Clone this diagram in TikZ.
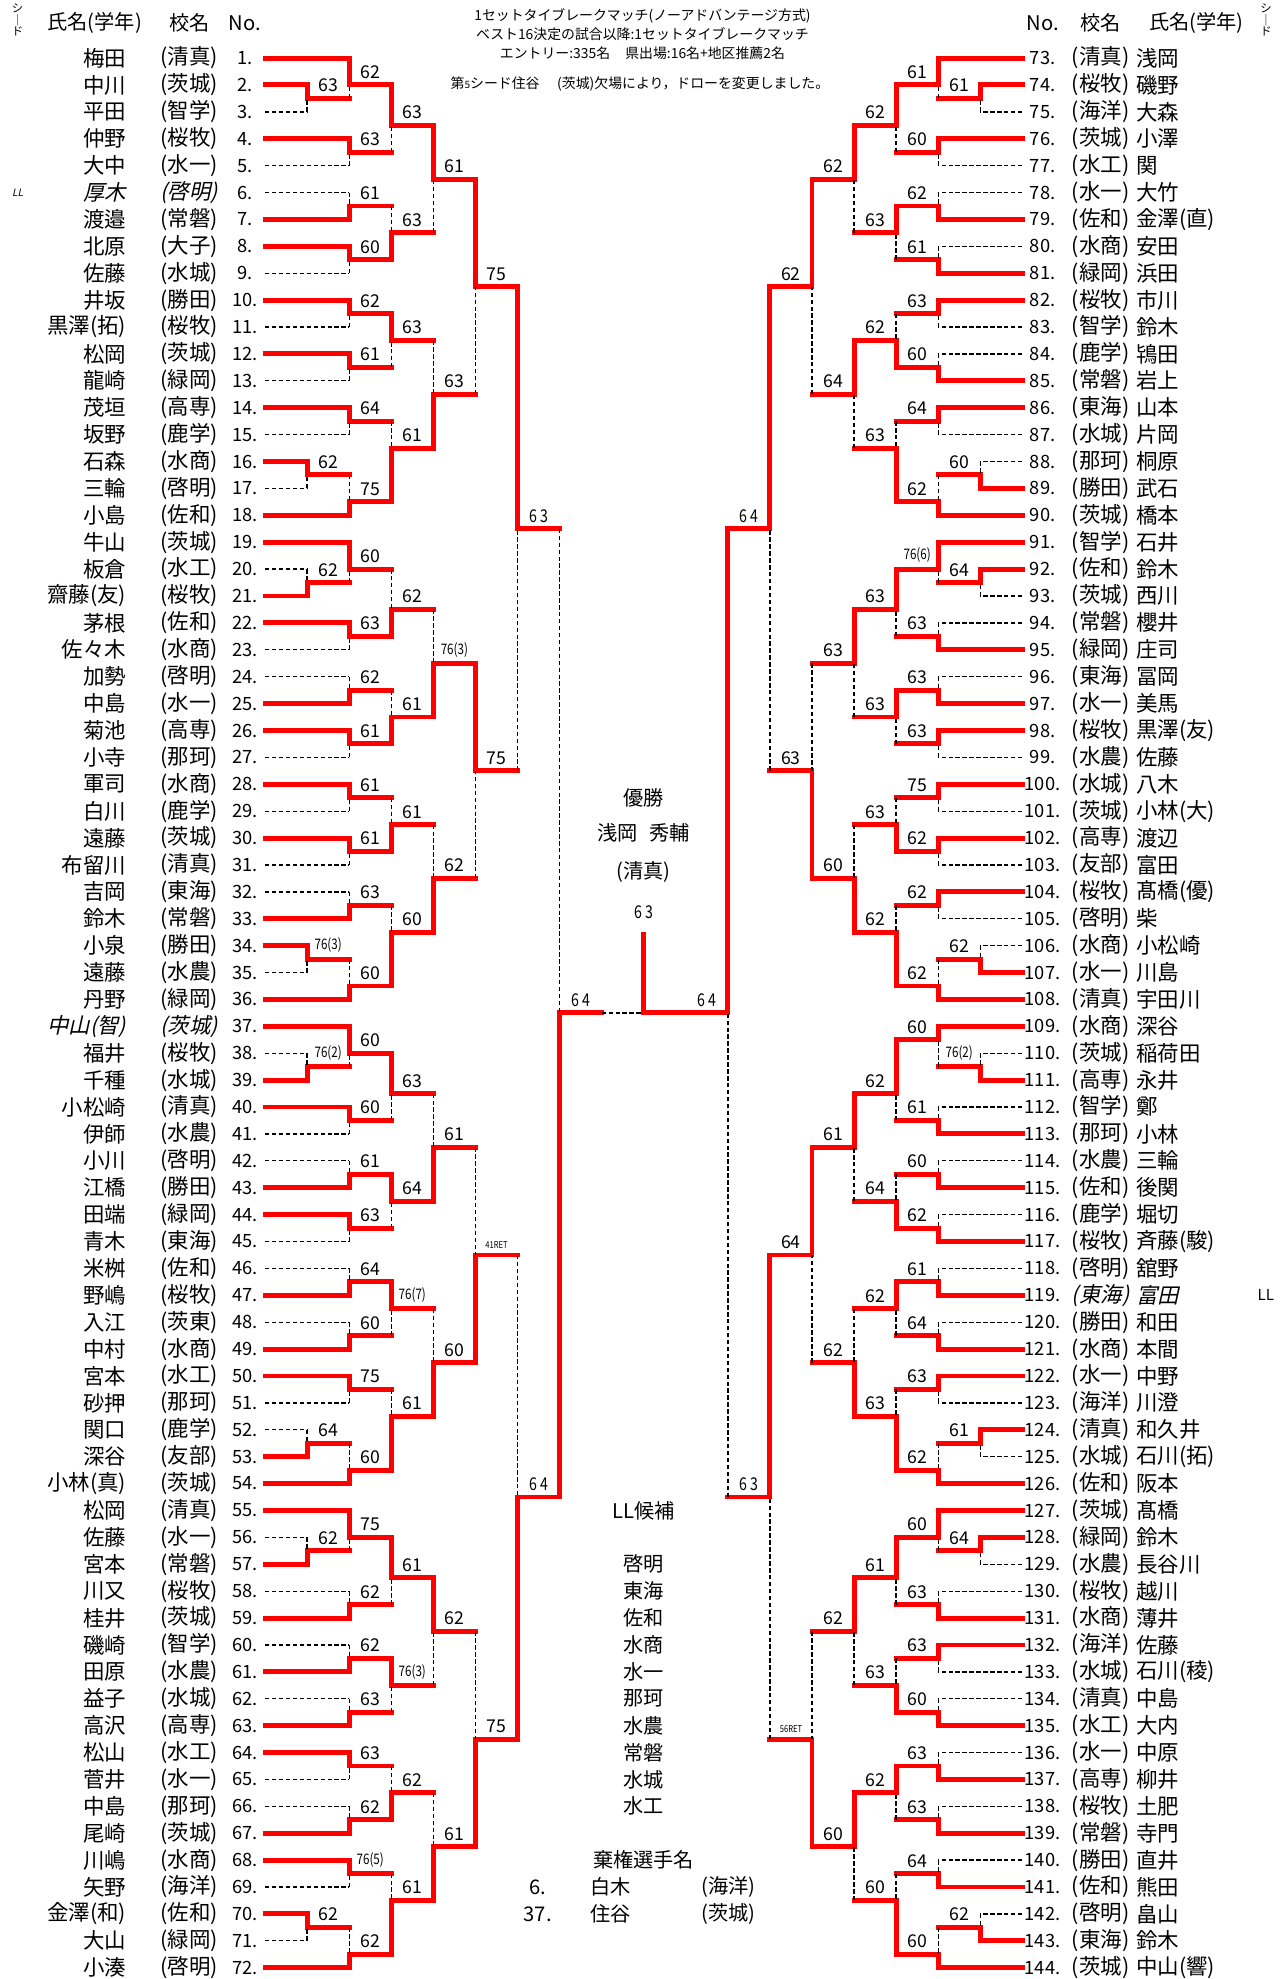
\documentclass[tikz,border=0pt]{standalone}
\usepackage{fontspec}
\setmainfont{Noto Sans CJK JP}
\newfontfamily\jpit{Noto Sans CJK JP}[FakeSlant=0.22]
\newfontfamily\jpnar{Noto Sans CJK JP}[FakeStretch=0.8]
\newcommand{\fsz}[1]{\fontsize{#1}{#1}\selectfont}
\newcommand{\smlab}{\jpnar\fsz{11.5}}
\newcommand{\tnlab}{\jpnar\fsz{7.5}}
\newcommand{\bout}[6]{%
  \draw[win] (#1,#3) -- (#1,#5) -- (#2,#5);
  \draw[lose] (#1,#4) -- (#1,#5);
  \node[sc] at ({(#1+#2)/2},#5) {#6};}

\begin{document}
\begin{tikzpicture}[x=1pt,y=-21.31pt,
  win/.style={draw=red,line width=3.9pt,line cap=rect},
  lose/.style={draw=black,line width=1.05pt,dash pattern=on 3.5pt off 2pt},
  sc/.style={anchor=south,inner sep=0pt,yshift=4.8pt,font=\fsz{14}},
  nmL/.style={anchor=east,inner sep=0pt,font=\fsz{17}},
  nmR/.style={anchor=west,inner sep=0pt,font=\fsz{17}},
  sch/.style={inner sep=0pt,font=\fsz{17}},
  num/.style={inner sep=0pt,font=\fsz{14.5}},
  hd/.style={inner sep=0pt,font=\fsz{16}},
  note/.style={inner sep=0pt,font=\fsz{11}},
  ctr/.style={inner sep=0pt,font=\fsz{16}},
  seed/.style={inner sep=0pt,align=center,font=\fsz{9}}]
\useasboundingbox (0,-1.1586) rectangle (1016,72.42);

\node[note] (r1) at (509,-0.55) {1セットタイブレークマッチ(ノーアドバンテージ方式)};
\node[note] (r2) at (509,0.11) {ベスト16決定の試合以降:1セットタイブレークマッチ};
\node[note] (r3) at (509,0.81) {エントリー:335名\hspace{12pt}県出場:16名+地区推薦2名};
\node[note] (r4) at (507,1.98) {第{\fsz{8}5}シード住谷\hspace{14pt}(茨城)欠場により，ドローを変更しました。};

\node[seed] (sdL) at (14,-0.41) {シ\\｜\\ド};
\node[seed] (sdR) at (1003,-0.41) {シ\\｜\\ド};
\node[hd] (hnL) at (75,-0.31) {氏名(学年)};
\node[hd] (hsL) at (150,-0.31) {校名};
\node[hd] (hkL) at (194,-0.31) {No.};
\node[hd] (hkR) at (826,-0.31) {No.};
\node[hd] (hsR) at (872,-0.31) {校名};
\node[hd] (hnR) at (948,-0.31) {氏名(学年)};

\foreach \nam/\sch/\rw in {梅田/清真/1, 中川/茨城/2, 平田/智学/3, 仲野/桜牧/4, 大中/水一/5, 渡邉/常磐/7, 北原/大子/8, 佐藤/水城/9, 井坂/勝田/10, 黒澤(拓)/桜牧/11, 松岡/茨城/12, 龍崎/緑岡/13, 茂垣/高専/14, 坂野/鹿学/15, 石森/水商/16, 三輪/啓明/17, 小島/佐和/18, 牛山/茨城/19, 板倉/水工/20, 齋藤(友)/桜牧/21, 茅根/佐和/22, 佐々木/水商/23, 加勢/啓明/24, 中島/水一/25, 菊池/高専/26, 小寺/那珂/27, 軍司/水商/28, 白川/鹿学/29, 遠藤/茨城/30, 布留川/清真/31, 吉岡/東海/32, 鈴木/常磐/33, 小泉/勝田/34, 遠藤/水農/35, 丹野/緑岡/36, 福井/桜牧/38, 千種/水城/39, 小松崎/清真/40, 伊師/水農/41, 小川/啓明/42, 江橋/勝田/43, 田端/緑岡/44, 青木/東海/45, 米桝/佐和/46, 野嶋/桜牧/47, 入江/茨東/48, 中村/水商/49, 宮本/水工/50, 砂押/那珂/51, 関口/鹿学/52, 深谷/友部/53, 小林(真)/茨城/54, 松岡/清真/55, 佐藤/水一/56, 宮本/常磐/57, 川又/桜牧/58, 桂井/茨城/59, 磯崎/智学/60, 田原/水農/61, 益子/水城/62, 高沢/高専/63, 松山/水工/64, 菅井/水一/65, 中島/那珂/66, 尾崎/茨城/67, 川嶋/水商/68, 矢野/海洋/69, 金澤(和)/佐和/70, 大山/緑岡/71, 小湊/啓明/72}{
  \node[nmL] (p\rw) at (100,\rw) {\nam};
  \node[sch] (s\rw) at (150,\rw) {(\sch)};
  \node[num] (k\rw) at (194,\rw) {\rw.};
}
\node[nmL,font=\jpit\fsz{17}] (p6) at (100,6) {厚木};
\node[sch,font=\jpit\fsz{17}] (s6) at (150,6) {(啓明)};
\node[num] (k6) at (194,6) {6.};
\node[nmL,font=\jpit\fsz{17}] (p37) at (100,37) {中山(智)};
\node[sch,font=\jpit\fsz{17}] (s37) at (150,37) {(茨城)};
\node[num] (k37) at (194,37) {37.};
\node[inner sep=0pt,font=\jpit\fsz{8}] (llL) at (14,6) {LL};

\foreach \pn/\sch/\nam [evaluate=\pn as \rw using int(\pn-72)] in {73/清真/浅岡, 74/桜牧/磯野, 75/海洋/大森, 76/茨城/小澤, 77/水工/関, 78/水一/大竹, 79/佐和/金澤(直), 80/水商/安田, 81/緑岡/浜田, 82/桜牧/市川, 83/智学/鈴木, 84/鹿学/鴇田, 85/常磐/岩上, 86/東海/山本, 87/水城/片岡, 88/那珂/桐原, 89/勝田/武石, 90/茨城/橋本, 91/智学/石井, 92/佐和/鈴木, 93/茨城/西川, 94/常磐/櫻井, 95/緑岡/庄司, 96/東海/冨岡, 97/水一/美馬, 98/桜牧/黒澤(友), 99/水農/佐藤, 100/水城/八木, 101/茨城/小林(大), 102/高専/渡辺, 103/友部/富田, 104/桜牧/髙橋(優), 105/啓明/柴, 106/水商/小松崎, 107/水一/川島, 108/清真/宇田川, 109/水商/深谷, 110/茨城/稲荷田, 111/高専/永井, 112/智学/鄭, 113/那珂/小林, 114/水農/三輪, 115/佐和/後関, 116/鹿学/堀切, 117/桜牧/斉藤(駿), 118/啓明/舘野, 120/勝田/和田, 121/水商/本間, 122/水一/中野, 123/海洋/川澄, 124/清真/和久井, 125/水城/石川(拓), 126/佐和/阪本, 127/茨城/髙橋, 128/緑岡/鈴木, 129/水農/長谷川, 130/桜牧/越川, 131/水商/薄井, 132/海洋/佐藤, 133/水城/石川(稜), 134/清真/中島, 135/水工/大内, 136/水一/中原, 137/高専/柳井, 138/桜牧/土肥, 139/常磐/寺門, 140/勝田/直井, 141/佐和/熊田, 142/啓明/畠山, 143/東海/鈴木, 144/茨城/中山(響)}{
  \node[num] (k\pn) at (826,\rw) {\pn.};
  \node[sch] (s\pn) at (872,\rw) {(\sch)};
  \node[nmR] (p\pn) at (900,\rw) {\nam};
}
\node[num] (k119) at (826,47) {119.};
\node[sch,font=\jpit\fsz{17}] (s119) at (872,47) {(東海)};
\node[nmR,font=\jpit\fsz{17}] (p119) at (900,47) {富田};
\node[inner sep=0pt,font=\fsz{12}] (llR) at (1003,47) {LL};

\foreach \rw in {1,4,7,8,10,12,14,18,19,22,25,26,28,30,33,36,37,40,43,44,47,49,50,54,55,59,61,63,64,67,68,72}
  \draw[win] (210,\rw) -- (276.67,\rw);
\foreach \rw in {5,6,9,11,13,15,23,24,27,29,31,32,41,42,45,46,48,51,58,60,62,65,66,69}
  \draw[lose] (210,\rw) -- (276.67,\rw);
\foreach \rw in {2,16,21,34,39,53,57,70}
  \draw[win] (210,\rw) -- (243.33,\rw);
\foreach \rw in {3,17,20,35,38,52,56,71}
  \draw[lose] (210,\rw) -- (243.33,\rw);

\foreach \wa/\lo/\ou/\lb in {2/3/2.5/63, 16/17/16.5/62, 21/20/20.5/62, 34/35/34.5/{\smlab 76(3)}, 39/38/38.5/{\smlab 76(2)}, 53/52/52.5/64, 57/56/56.5/62, 70/71/70.5/62}
  \bout{243.33}{276.67}{\wa}{\lo}{\ou}{\lb};
\foreach \wa/\lo/\ou/\lb in {1/2.5/2/62, 4/5/4.5/63, 7/6/6.5/61, 8/9/8.5/60, 10/11/10.5/62, 12/13/12.5/61, 14/15/14.5/64, 18/16.5/17.5/75, 19/20.5/20/60, 22/23/22.5/63, 25/24/24.5/62, 26/27/26.5/61, 28/29/28.5/61, 30/31/30.5/61, 33/32/32.5/63, 36/34.5/35.5/60, 37/38.5/38/60, 40/41/40.5/60, 43/42/42.5/61, 44/45/44.5/63, 47/46/46.5/64, 49/48/48.5/60, 50/51/50.5/75, 54/52.5/53.5/60, 55/56.5/56/75, 59/58/58.5/62, 61/60/60.5/62, 63/62/62.5/63, 64/65/64.5/63, 67/66/66.5/62, 68/69/68.5/{\smlab 76(5)}, 72/70.5/71.5/62}
  \bout{276.67}{310}{\wa}{\lo}{\ou}{\lb};
\foreach \wa/\lo/\ou/\lb in {2/4.5/3.5/63, 8.5/6.5/7.5/63, 10.5/12.5/11.5/63, 17.5/14.5/15.5/61, 22.5/20/21.5/62, 26.5/24.5/25.5/61, 30.5/28.5/29.5/61, 35.5/32.5/33.5/60, 38/40.5/39.5/63, 42.5/44.5/43.5/64, 46.5/48.5/47.5/{\smlab 76(7)}, 53.5/50.5/51.5/61, 56/58.5/57.5/61, 60.5/62.5/61.5/{\smlab 76(3)}, 66.5/64.5/65.5/62, 71.5/68.5/69.5/61}
  \bout{310}{343.33}{\wa}{\lo}{\ou}{\lb};
\foreach \wa/\lo/\ou/\lb in {3.5/7.5/5.5/61, 15.5/11.5/13.5/63, 25.5/21.5/23.5/{\smlab 76(3)}, 33.5/29.5/31.5/62, 43.5/39.5/41.5/61, 51.5/47.5/49.5/60, 57.5/61.5/59.5/62, 69.5/65.5/67.5/61}
  \bout{343.33}{376.67}{\wa}{\lo}{\ou}{\lb};
\foreach \wa/\lo/\ou/\lb in {5.5/13.5/9.5/75, 23.5/31.5/27.5/75, 49.5/41.5/45.5/{\tnlab 41RET}, 67.5/59.5/63.5/75}
  \bout{376.67}{410}{\wa}{\lo}{\ou}{\lb};
\foreach \wa/\lo/\ou/\lb in {9.5/27.5/18.5/{\jpnar 6 3}, 63.5/45.5/54.5/{\jpnar 6 4}}
  \bout{410}{443.33}{\wa}{\lo}{\ou}{\lb};
\draw[win] (443.33,54.5) -- (443.33,36.5) -- (476.67,36.5);
\draw[lose] (443.33,18.5) -- (443.33,36.5);
\draw[lose] (476.67,36.5) -- (510,36.5);
\node[sc,font=\jpnar\fsz{14}] (sfL) at (460,36.5) {6 4};

\begin{scope}[shift={(1020,0)},xscale=-1]
\foreach \rw in {1,4,7,9,10,13,14,18,19,23,25,26,28,30,32,36,37,41,43,45,47,49,50,54,55,59,60,63,65,67,69,72}
  \draw[win] (210,\rw) -- (276.67,\rw);
\foreach \rw in {5,6,8,11,12,15,22,24,27,29,31,33,40,42,44,46,48,51,58,61,62,64,66,68}
  \draw[lose] (210,\rw) -- (276.67,\rw);
\foreach \rw in {2,17,20,35,39,52,56,71}
  \draw[win] (210,\rw) -- (243.33,\rw);
\foreach \rw in {3,16,21,34,38,53,57,70}
  \draw[lose] (210,\rw) -- (243.33,\rw);

\foreach \wa/\lo/\ou/\lb in {2/3/2.5/61, 17/16/16.5/60, 20/21/20.5/64, 35/34/34.5/62, 39/38/38.5/{\smlab 76(2)}, 52/53/52.5/61, 56/57/56.5/64, 71/70/70.5/62}
  \bout{243.33}{276.67}{\wa}{\lo}{\ou}{\lb};
\foreach \wa/\lo/\ou/\lb in {1/2.5/2/61, 4/5/4.5/60, 7/6/6.5/62, 9/8/8.5/61, 10/11/10.5/63, 13/12/12.5/60, 14/15/14.5/64, 18/16.5/17.5/62, 19/20.5/20/{\smlab 76(6)}, 23/22/22.5/63, 25/24/24.5/63, 26/27/26.5/63, 28/29/28.5/75, 30/31/30.5/62, 32/33/32.5/62, 36/34.5/35.5/62, 37/38.5/37.5/60, 41/40/40.5/61, 43/42/42.5/60, 45/44/44.5/62, 47/46/46.5/61, 49/48/48.5/64, 50/51/50.5/63, 54/52.5/53.5/62, 55/56.5/56/60, 59/58/58.5/63, 60/61/60.5/63, 63/62/62.5/60, 65/64/64.5/63, 67/66/66.5/63, 69/68/68.5/64, 72/70.5/71.5/60}
  \bout{276.67}{310}{\wa}{\lo}{\ou}{\lb};
\foreach \wa/\lo/\ou/\lb in {2/4.5/3.5/62, 6.5/8.5/7.5/63, 12.5/10.5/11.5/62, 17.5/14.5/15.5/63, 20/22.5/21.5/63, 24.5/26.5/25.5/63, 30.5/28.5/29.5/63, 35.5/32.5/33.5/62, 37.5/40.5/39.5/62, 44.5/42.5/43.5/64, 46.5/48.5/47.5/62, 53.5/50.5/51.5/63, 56/58.5/57.5/61, 62.5/60.5/61.5/63, 64.5/66.5/65.5/62, 71.5/68.5/69.5/60}
  \bout{310}{343.33}{\wa}{\lo}{\ou}{\lb};
\foreach \wa/\lo/\ou/\lb in {3.5/7.5/5.5/62, 11.5/15.5/13.5/64, 21.5/25.5/23.5/63, 33.5/29.5/31.5/60, 39.5/43.5/41.5/61, 51.5/47.5/49.5/62, 57.5/61.5/59.5/62, 65.5/69.5/67.5/60}
  \bout{343.33}{376.67}{\wa}{\lo}{\ou}{\lb};
\foreach \wa/\lo/\ou/\lb in {5.5/13.5/9.5/62, 31.5/23.5/27.5/63, 41.5/49.5/45.5/64, 67.5/59.5/63.5/{\tnlab 56RET}}
  \bout{376.67}{410}{\wa}{\lo}{\ou}{\lb};
\foreach \wa/\lo/\ou/\lb in {9.5/27.5/18.5/{\jpnar 6 4}, 45.5/63.5/54.5/{\jpnar 6 3}}
  \bout{410}{443.33}{\wa}{\lo}{\ou}{\lb};
\draw[win] (443.33,18.5) -- (443.33,36.5) -- (510,36.5);
\draw[lose] (443.33,54.5) -- (443.33,36.5);
\node[sc,font=\jpnar\fsz{14}] (sfR) at (460,36.5) {6 4};
\end{scope}

\draw[win] (510,36.5) -- (510,33.57);
\node[inner sep=0pt,font=\jpnar\fsz{14}] (fin) at (510,32.77) {6 3};
\node[ctr] (yu) at (510,28.5) {優勝};
\node[ctr] (ch) at (510,29.8) {浅岡\hspace{9pt}秀輔};
\node[ctr] (chs) at (510,31.27) {(清真)};

\node[ctr] (llh) at (510,55) {LL候補};
\foreach \sch [count=\rw from 57] in {啓明,東海,佐和,水商,水一,那珂,水農,常磐,水城,水工}
  \node[ctr] (ll\rw) at (510,\rw) {\sch};

\node[ctr] (kk) at (510,68) {棄権選手名};
\node[ctr] (kk1) at (426,69) {6.};
\node[ctr] (kn1) at (484,69) {白木};
\node[ctr] (ks1) at (577,69) {(海洋)};
\node[ctr] (kk2) at (426,70) {37.};
\node[ctr] (kn2) at (484,70) {住谷};
\node[ctr] (ks2) at (577,70) {(茨城)};
\end{tikzpicture}
\end{document}
